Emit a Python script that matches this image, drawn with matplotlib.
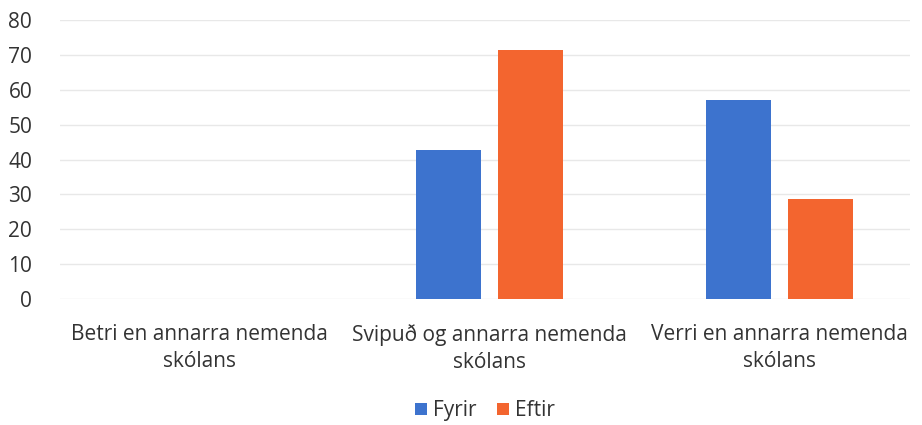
import matplotlib.pyplot as plt
import numpy as np

# Data
categories = ['Betri en annarra nemenda\nskólans',
              'Svipuð og annarra nemenda\nskólans',
              'Verri en annarra nemenda\nskólans']
fyrir = [0, 42.86, 57.14]
eftir = [0, 71.43, 28.57]
series_names = ['Fyrir', 'Eftir']
y_ticks = [0, 10, 20, 30, 40, 50, 60, 70, 80]

plt.rcParams['font.family'] = ['Open Sans', 'DejaVu Sans']

fig = plt.figure(figsize=(9.22, 4.25), dpi=100)
ax = fig.add_axes([0.065, 0.296, 0.922, 0.657])

x = np.arange(len(categories))
w = 0.224
off = 0.142
ax.bar(x - off, fyrir, w, color='#3D73CE', label=series_names[0], zorder=3)
ax.bar(x + off, eftir, w, color='#F3652F', label=series_names[1], zorder=3)

ax.set_xlim(-0.48, 2.45)
ax.set_ylim(0, 80)
ax.set_yticks(y_ticks)
ax.yaxis.grid(True, color='#E8E8E8', linewidth=1, zorder=0)
ax.set_xticks(x)
ax.set_xticklabels(categories, fontsize=15, color='#333333', linespacing=1.35)
ax.tick_params(axis='y', labelsize=15, labelcolor='#333333', length=0, pad=20)
ax.tick_params(axis='x', length=0, pad=18)
for s in ax.spines.values():
    s.set_visible(False)

ax.legend(loc='center', bbox_to_anchor=(0.5, -0.4), ncol=2, frameon=False,
          fontsize=15, handlelength=0.55, handleheight=0.55, handletextpad=0.3,
          columnspacing=1.0, labelcolor='#333333')

fig.savefig('out.png', dpi=100)
